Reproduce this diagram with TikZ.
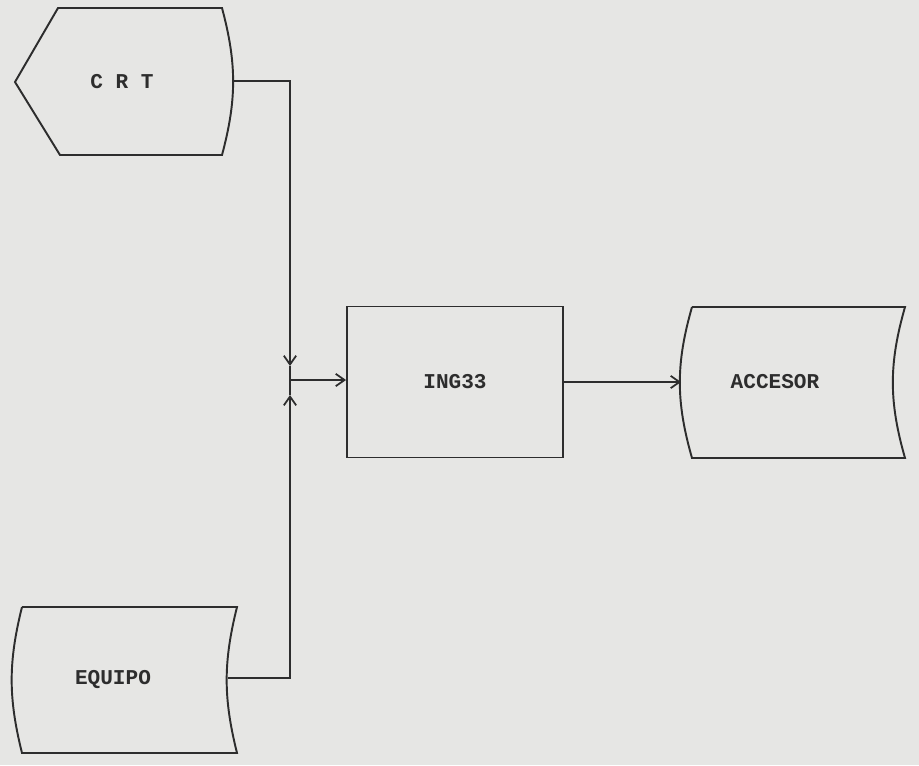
\documentclass[tikz,border=0pt]{standalone}
\usepackage{fontspec}
\setmonofont{Liberation Mono}
\usetikzlibrary{arrows.meta}
\definecolor{mypaper}{RGB}{230,230,228}
\definecolor{myink}{RGB}{45,45,45}

\begin{document}
\begin{tikzpicture}[x=0.02cm,y=-0.02cm,
  symb/.style={draw=myink, line width=1.1pt},
  wire/.style={draw=myink, line width=1pt},
  flow/.style={wire, -{Straight Barb[length=5pt,width=7pt]}},
  txt/.style={font=\ttfamily\bfseries\fontsize{12}{14}\selectfont, text=myink}]

\fill[mypaper] (0,0) rectangle (919,765);
\useasboundingbox (0,0) rectangle (919,765);

% CRT
\draw[symb] (58,8) -- (222,8) to[bend left=15] (222,155) -- (60,155) -- (15,82) -- cycle;
\node[txt] (crt) at (122,82) {C R T};
\coordinate (crtout) at (232,81);

% EQUIPO
\draw[symb] (22,607) -- (237,607) to[bend right=14] (237,753) -- (22,753) to[bend left=14] (22,607);
\node[txt] (equipo) at (113,680) {EQUIPO};
\coordinate (eqout) at (228,678);

% ING33
\node[symb, txt, minimum width=4.32cm, minimum height=3.02cm] (ing) at (455,382) {ING33};

% ACCESOR
\draw[symb] (692,307) -- (905,307) to[bend right=16] (905,458) -- (692,458) to[bend left=16] (692,307);
\node[txt] (acc) at (775,382) {ACCESOR};
\coordinate (accin) at (681,382);

% connectors
\coordinate (jn) at (290,380);
\coordinate (jtop) at (290,366);
\coordinate (jbot) at (290,395);
\draw[flow] (crtout) -| (jtop);
\draw[flow] (eqout) -| (jbot);
\draw[wire] (jtop) -- (jbot);
\draw[flow] (jn) -- (ing.west |- jn);
\draw[flow] (ing.east) -- (accin);

\end{tikzpicture}
\end{document}
